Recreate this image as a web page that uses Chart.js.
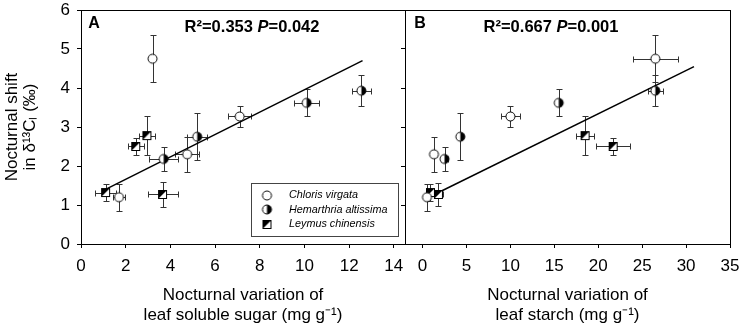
<!DOCTYPE html>
<html>
<head>
<title>Nocturnal shift vs carbohydrates</title>
<script src="https://cdn.jsdelivr.net/npm/chart.js"></script>
<style>
  body { margin: 0; background: #fff; }
  #wrap { position: relative; width: 743px; height: 329px; }
  #wrap canvas { position: absolute; top: 0; }
</style>
</head>
<body>
<div id="wrap">
  <canvas id="chartA" width="420" height="329" style="left:0px"></canvas>
  <canvas id="chartB" width="343" height="329" style="left:400px"></canvas>
</div>
<script>
// ---- data ----
var species = ['Chloris virgata', 'Hemarthria altissima', 'Leymus chinensis'];
var yTicks = [0, 1, 2, 3, 4, 5, 6];
var xTicksA = [0, 2, 4, 6, 8, 10, 12, 14];
var xTicksB = [0, 5, 10, 15, 20, 25, 30, 35];

// panel A: leaf soluble sugar
var sugarChloris = [1.7, 3.2, 4.75, 7.1];
var shiftChlorisA = [1.2, 4.75, 2.3, 3.27];
var sugarChlorisErr = [0.25, 0, 0.55, 0.52];
var shiftChlorisErrA = [0.35, 0.6, 0.45, 0.28];

var sugarHemarthria = [3.7, 5.2, 10.1, 12.55];
var shiftHemarthriaA = [2.18, 2.75, 3.62, 3.93];
var sugarHemarthriaErr = [0.65, 0.45, 0.57, 0.41];
var shiftHemarthriaErrA = [0.31, 0.6, 0.35, 0.4];

var sugarLeymus = [1.1, 2.45, 2.95, 3.65];
var shiftLeymusA = [1.32, 2.5, 2.78, 1.27];
var sugarLeymusErr = [0.47, 0.35, 0.35, 0.67];
var shiftLeymusErrA = [0.22, 0.23, 0.5, 0.31];

var fitSugarX = [1.1, 12.6];
var fitSugarY = [1.4, 4.7];

// panel B: leaf starch
var starchChloris = [0.5, 1.3, 10, 26.5];
var shiftChlorisB = [1.2, 2.3, 3.27, 4.75];
var starchChlorisErr = [0.3, 0.3, 1.05, 2.55];
var shiftChlorisErrB = [0.35, 0.45, 0.28, 0.6];

var starchHemarthria = [2.5, 4.3, 15.5, 26.5];
var shiftHemarthriaB = [2.18, 2.75, 3.62, 3.93];
var starchHemarthriaErr = [0.4, 0, 0.3, 0.85];
var shiftHemarthriaErrB = [0.31, 0.6, 0.35, 0.4];

var starchLeymus = [0.9, 1.8, 18.5, 21.7];
var shiftLeymusB = [1.32, 1.27, 2.78, 2.5];
var starchLeymusErr = [0.3, 0.5, 1.0, 1.9];
var shiftLeymusErrB = [0.22, 0.3, 0.5, 0.23];

var fitStarchX = [1.0, 30.9];
var fitStarchY = [1.23, 4.55];

// ---- markers ----
Chart.defaults.font.family = '"Liberation Sans", Arial, sans-serif';
Chart.defaults.color = '#000';

function makeMarker(kind) {
    var c = document.createElement('canvas');
    c.width = 13; c.height = 13;
    var g = c.getContext('2d');
    g.lineWidth = 1;
    g.strokeStyle = '#000';
    if (kind === 0) {
        g.beginPath(); g.arc(6.5, 6.5, 4.5, 0, Math.PI * 2);
        g.fillStyle = '#fff'; g.fill(); g.stroke();
    } else if (kind === 1) {
        g.beginPath(); g.arc(6.5, 6.5, 4.5, 0, Math.PI * 2);
        g.fillStyle = '#fff'; g.fill();
        g.beginPath(); g.moveTo(6.5, 2); g.arc(6.5, 6.5, 4.5, -Math.PI / 2, Math.PI / 2); g.closePath();
        g.fillStyle = '#000'; g.fill();
        g.beginPath(); g.arc(6.5, 6.5, 4.5, 0, Math.PI * 2); g.stroke();
    } else {
        g.fillStyle = '#fff'; g.fillRect(2.5, 2.5, 8, 8);
        g.beginPath(); g.moveTo(2.5, 2.5); g.lineTo(10.5, 2.5); g.lineTo(2.5, 10.5); g.closePath();
        g.fillStyle = '#000'; g.fill();
        g.strokeRect(2.5, 2.5, 8, 8);
    }
    return c;
}
var markers = [makeMarker(0), makeMarker(1), makeMarker(2)];

function pts(xs, ys) {
    return xs.map(function (v, i) { return { x: v, y: ys[i] }; });
}

function seriesSet(i, xs, ys, xe, ye) {
    return {
        type: 'scatter',
        label: species[i],
        data: pts(xs, ys),
        xErr: xe,
        yErr: ye,
        pointStyle: markers[i],
        order: 0
    };
}

function fitSet(xs, ys) {
    return {
        type: 'line',
        label: 'fit',
        data: pts(xs, ys),
        borderColor: '#000',
        borderWidth: 1.5,
        pointRadius: 0,
        fill: false,
        order: 1
    };
}

// ---- plugins ----
var errorBars = {
    id: 'errorBars',
    beforeDatasetsDraw: function (chart) {
        var ctx = chart.ctx, xs = chart.scales.x, ys = chart.scales.y;
        var cap = 3;
        ctx.save();
        ctx.strokeStyle = '#333';
        ctx.lineWidth = 1;
        chart.data.datasets.forEach(function (ds) {
            if (!ds.xErr) return;
            ds.data.forEach(function (p, i) {
                var px = Math.round(xs.getPixelForValue(p.x)) + 0.5;
                var py = Math.round(ys.getPixelForValue(p.y)) + 0.5;
                ctx.beginPath();
                if (ds.xErr[i] > 0) {
                    var x1 = Math.round(xs.getPixelForValue(p.x - ds.xErr[i])) + 0.5;
                    var x2 = Math.round(xs.getPixelForValue(p.x + ds.xErr[i])) + 0.5;
                    ctx.moveTo(x1, py); ctx.lineTo(x2, py);
                    ctx.moveTo(x1, py - cap); ctx.lineTo(x1, py + cap);
                    ctx.moveTo(x2, py - cap); ctx.lineTo(x2, py + cap);
                }
                if (ds.yErr[i] > 0) {
                    var y1 = Math.round(ys.getPixelForValue(p.y - ds.yErr[i])) + 0.5;
                    var y2 = Math.round(ys.getPixelForValue(p.y + ds.yErr[i])) + 0.5;
                    ctx.moveTo(px, y1); ctx.lineTo(px, y2);
                    ctx.moveTo(px - cap, y1); ctx.lineTo(px + cap, y1);
                    ctx.moveTo(px - cap, y2); ctx.lineTo(px + cap, y2);
                }
                ctx.stroke();
            });
        });
        ctx.restore();
    }
};

function drawStat(ctx, cx, cy, r2, p) {
    var f = 'bold 16.5px "Liberation Sans", Arial, sans-serif';
    var fi = 'italic bold 16.5px "Liberation Sans", Arial, sans-serif';
    var parts = [['R\u00b2=' + r2 + ' ', f], ['P', fi], ['=' + p, f]];
    var w = 0;
    parts.forEach(function (pt) { ctx.font = pt[1]; w += ctx.measureText(pt[0]).width; });
    var x = cx - w / 2;
    ctx.textAlign = 'left';
    ctx.textBaseline = 'middle';
    parts.forEach(function (pt) {
        ctx.font = pt[1];
        ctx.fillText(pt[0], x, cy);
        x += ctx.measureText(pt[0]).width;
    });
}

var panelDecor = {
    id: 'panelDecor',
    afterDraw: function (chart, args, opts) {
        var ctx = chart.ctx, a = chart.chartArea;
        ctx.save();
        ctx.strokeStyle = '#000';
        ctx.lineWidth = 1;
        ctx.strokeRect(Math.round(a.left) + 0.5, Math.round(a.top) + 0.5,
            Math.round(a.right - a.left), Math.round(a.bottom - a.top));

        ctx.fillStyle = '#000';
        ctx.font = 'bold 16px "Liberation Sans", Arial, sans-serif';
        ctx.textAlign = 'center';
        ctx.textBaseline = 'middle';
        ctx.fillText(opts.letter, a.left + opts.letterX, a.top + 14);
        drawStat(ctx, a.left + opts.statX, a.top + 17, opts.r2, opts.p);

        if (opts.legend) {
            var lx = a.left + 170, ly = a.top + 173;
            ctx.strokeStyle = '#444';
            ctx.strokeRect(lx + 0.5, ly + 0.5, 147, 53);
            ctx.font = 'italic 10.8px "Liberation Sans", Arial, sans-serif';
            ctx.textAlign = 'left';
            species.forEach(function (name, i) {
                var ry = ly + 12 + i * 14.5;
                var m = markers[i];
                ctx.drawImage(m, lx + 16 - m.width / 2, Math.round(ry - m.height / 2));
                ctx.fillText(name, lx + 38, ry);
            });
        }
        ctx.restore();
    }
};

function axisTicks(list) {
    return function (scale) {
        scale.ticks = list.map(function (v) { return { value: v }; });
    };
}

// fixed axis boxes so both panels share the same plot height
function fixX(s) { s.height = 85; s.paddingLeft = 0; s.paddingRight = 0; }
function fixYA(s) { s.width = 81; s.paddingTop = 0; s.paddingBottom = 0; }
function fixYB(s) { s.width = 5; s.paddingTop = 0; s.paddingBottom = 0; }

var tickFont = { size: 17 };
var axisGrid = { drawOnChartArea: false, drawTicks: true, tickLength: 4, color: '#000' };
var axisBorder = { display: true, color: '#000', width: 1 };

// ---- panel A ----
new Chart(document.getElementById('chartA'), {
    data: {
        datasets: [
            fitSet(fitSugarX, fitSugarY),
            seriesSet(0, sugarChloris, shiftChlorisA, sugarChlorisErr, shiftChlorisErrA),
            seriesSet(1, sugarHemarthria, shiftHemarthriaA, sugarHemarthriaErr, shiftHemarthriaErrA),
            seriesSet(2, sugarLeymus, shiftLeymusA, sugarLeymusErr, shiftLeymusErrA)
        ]
    },
    options: {
        responsive: false,
        animation: false,
        layout: { padding: { top: 10, right: 15, left: 0, bottom: 0 } },
        plugins: {
            legend: { display: false },
            tooltip: { enabled: false },
            panelDecor: { letter: 'A', letterX: 13, statX: 171, r2: '0.353', p: '0.042', legend: true }
        },
        scales: {
            x: {
                type: 'linear', min: 0, max: 14.5,
                afterBuildTicks: axisTicks(xTicksA),
                afterFit: fixX,
                ticks: { font: tickFont, padding: 8, maxRotation: 0 },
                grid: axisGrid, border: axisBorder,
                title: {
                    display: true,
                    text: ['Nocturnal variation of', 'leaf soluble sugar (mg g\u207b\u00b9)'],
                    font: { size: 17, lineHeight: 1.2 },
                    padding: { top: 0, bottom: 3 }
                }
            },
            y: {
                type: 'linear', min: 0, max: 6,
                afterBuildTicks: axisTicks(yTicks),
                afterFit: fixYA,
                ticks: { font: tickFont, padding: 7 },
                grid: axisGrid, border: axisBorder,
                title: {
                    display: true,
                    text: ['Nocturnal shift', 'in \u03b4\u00b9\u00b3C\u2097 (\u2030)'],
                    font: { size: 17, lineHeight: 1.08 },
                    padding: { top: 3, bottom: 0 }
                }
            }
        }
    },
    plugins: [errorBars, panelDecor]
});

// ---- panel B ----
new Chart(document.getElementById('chartB'), {
    data: {
        datasets: [
            fitSet(fitStarchX, fitStarchY),
            seriesSet(0, starchChloris, shiftChlorisB, starchChlorisErr, shiftChlorisErrB),
            seriesSet(1, starchHemarthria, shiftHemarthriaB, starchHemarthriaErr, shiftHemarthriaErrB),
            seriesSet(2, starchLeymus, shiftLeymusB, starchLeymusErr, shiftLeymusErrB)
        ]
    },
    options: {
        responsive: false,
        animation: false,
        layout: { padding: { top: 10, right: 13, left: 0, bottom: 0 } },
        plugins: {
            legend: { display: false },
            tooltip: { enabled: false },
            panelDecor: { letter: 'B', letterX: 15, statX: 146, r2: '0.667', p: '0.001', legend: false }
        },
        scales: {
            x: {
                type: 'linear', min: -2, max: 35,
                afterBuildTicks: axisTicks(xTicksB),
                afterFit: fixX,
                ticks: { font: tickFont, padding: 8, maxRotation: 0 },
                grid: axisGrid, border: axisBorder,
                title: {
                    display: true,
                    text: ['Nocturnal variation of', 'leaf starch (mg g\u207b\u00b9)'],
                    font: { size: 17, lineHeight: 1.2 },
                    padding: { top: 0, bottom: 3 }
                }
            },
            y: {
                type: 'linear', min: 0, max: 6,
                afterBuildTicks: axisTicks(yTicks),
                afterFit: fixYB,
                ticks: { display: false },
                grid: axisGrid, border: axisBorder
            }
        }
    },
    plugins: [errorBars, panelDecor]
});
</script>
</body>
</html>
